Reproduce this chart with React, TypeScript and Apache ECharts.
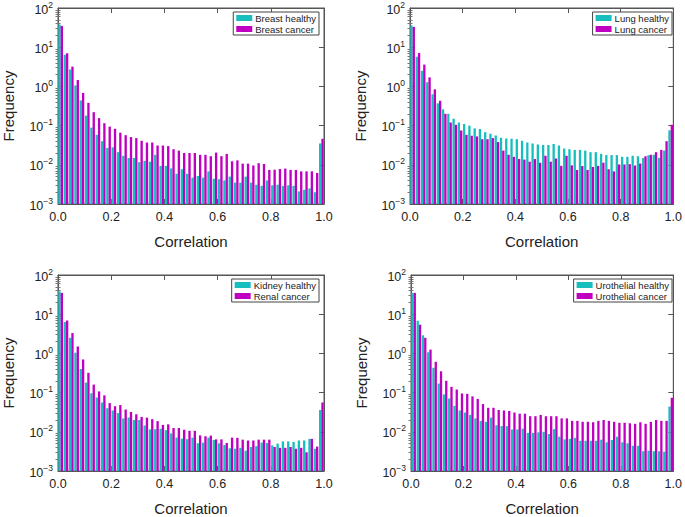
import React, { useEffect, useRef } from "react";
import * as echarts from "echarts";

// 50 histogram bins of width 0.02 over [0, 1]
const BIN_COUNT = 50;
const binCategories = Array.from({ length: BIN_COUNT }, (_, i) => (0.01 + 0.02 * i).toFixed(2));

const xTicks = [0, 0.2, 0.4, 0.6, 0.8, 1.0];

const breastHealthy = [38, 6.4, 2.7, 1.06, 0.44, 0.18, 0.089, 0.058, 0.04, 0.027, 0.028, 0.021, 0.017, 0.015, 0.015, 0.0117, 0.0126, 0.012, 0.018, 0.0094, 0.0094, 0.0081, 0.0059, 0.0077, 0.0059, 0.0047, 0.0052, 0.0047, 0.0068, 0.0044, 0.0043, 0.004, 0.005, 0.0035, 0.0035, 0.005, 0.0035, 0.0031, 0.0029, 0.004, 0.003, 0.0031, 0.0029, 0.003, 0.0029, 0.0021, 0.0023, 0.0025, 0.002, 0.035];
const breastCancer = [35, 7, 3.2, 1.45, 0.68, 0.38, 0.22, 0.155, 0.115, 0.094, 0.083, 0.066, 0.057, 0.051, 0.048, 0.041, 0.037, 0.037, 0.031, 0.031, 0.03, 0.025, 0.023, 0.02, 0.02, 0.02, 0.018, 0.018, 0.0166, 0.0205, 0.0166, 0.019, 0.0123, 0.013, 0.0107, 0.0107, 0.0096, 0.011, 0.0105, 0.0074, 0.0075, 0.0078, 0.008, 0.0074, 0.0074, 0.0068, 0.0068, 0.0068, 0.0062, 0.046];

const lungHealthy = [36, 5.7, 2.5, 1.28, 0.63, 0.37, 0.26, 0.2, 0.15, 0.12, 0.11, 0.1, 0.085, 0.082, 0.068, 0.062, 0.056, 0.049, 0.047, 0.046, 0.045, 0.041, 0.037, 0.035, 0.033, 0.032, 0.032, 0.034, 0.031, 0.026, 0.025, 0.024, 0.024, 0.023, 0.021, 0.021, 0.019, 0.0177, 0.0177, 0.0177, 0.016, 0.016, 0.017, 0.0165, 0.015, 0.0175, 0.018, 0.015, 0.023, 0.076];
const lungCancer = [33, 7.1, 3.6, 1.7, 0.84, 0.43, 0.2, 0.12, 0.105, 0.075, 0.058, 0.055, 0.053, 0.045, 0.045, 0.048, 0.038, 0.023, 0.018, 0.016, 0.014, 0.0136, 0.012, 0.014, 0.0113, 0.017, 0.012, 0.0145, 0.0094, 0.017, 0.0097, 0.0074, 0.0093, 0.0074, 0.0088, 0.0094, 0.0113, 0.0077, 0.0068, 0.0102, 0.0102, 0.0104, 0.0096, 0.0108, 0.0165, 0.018, 0.021, 0.024, 0.04, 0.105];

const kidneyHealthy = [38, 6.3, 2.5, 1.04, 0.4, 0.18, 0.096, 0.075, 0.056, 0.04, 0.035, 0.03, 0.022, 0.023, 0.02, 0.02, 0.0145, 0.0115, 0.0117, 0.012, 0.011, 0.0091, 0.0071, 0.0067, 0.0065, 0.0071, 0.0051, 0.0053, 0.0071, 0.0062, 0.0051, 0.0046, 0.0038, 0.0037, 0.0039, 0.0033, 0.0041, 0.0043, 0.0053, 0.0052, 0.0045, 0.005, 0.0057, 0.0057, 0.0055, 0.006, 0.006, 0.0066, 0.0037, 0.036];
const renalCancer = [35, 6.9, 3.3, 1.5, 0.7, 0.32, 0.16, 0.107, 0.085, 0.054, 0.045, 0.048, 0.037, 0.032, 0.028, 0.024, 0.023, 0.021, 0.0187, 0.015, 0.0155, 0.0125, 0.0125, 0.0113, 0.0106, 0.0106, 0.0081, 0.0077, 0.008, 0.0064, 0.0064, 0.0052, 0.0071, 0.007, 0.0063, 0.006, 0.006, 0.0063, 0.0063, 0.0063, 0.0041, 0.0039, 0.0039, 0.0041, 0.0037, 0.0039, 0.003, 0.0066, 0.0042, 0.056];

const urothelialHealthy = [35, 6.8, 2.9, 1.07, 0.43, 0.17, 0.09, 0.071, 0.046, 0.035, 0.031, 0.027, 0.022, 0.019, 0.018, 0.023, 0.0147, 0.014, 0.014, 0.0115, 0.0115, 0.012, 0.0094, 0.0094, 0.0097, 0.01, 0.0088, 0.0117, 0.0075, 0.0064, 0.0066, 0.007, 0.0059, 0.0059, 0.0059, 0.0059, 0.0063, 0.0054, 0.0062, 0.0075, 0.0054, 0.0051, 0.0044, 0.0044, 0.0032, 0.0033, 0.0032, 0.0032, 0.0031, 0.044];
const urothelialCancer = [35, 5.4, 2.5, 1.25, 0.61, 0.35, 0.2, 0.14, 0.12, 0.095, 0.093, 0.08, 0.069, 0.051, 0.041, 0.041, 0.036, 0.035, 0.034, 0.031, 0.029, 0.029, 0.025, 0.025, 0.027, 0.025, 0.025, 0.025, 0.022, 0.022, 0.019, 0.019, 0.018, 0.018, 0.0175, 0.019, 0.02, 0.019, 0.018, 0.017, 0.017, 0.0165, 0.016, 0.0175, 0.016, 0.018, 0.02, 0.019, 0.019, 0.074];

const panels = [
  { healthyName: "Breast healthy", cancerName: "Breast cancer", healthy: breastHealthy, cancer: breastCancer },
  { healthyName: "Lung healthy", cancerName: "Lung cancer", healthy: lungHealthy, cancer: lungCancer },
  { healthyName: "Kidney healthy", cancerName: "Renal cancer", healthy: kidneyHealthy, cancer: renalCancer },
  { healthyName: "Urothelial healthy", cancerName: "Urothelial cancer", healthy: urothelialHealthy, cancer: urothelialCancer },
];

const Y_MIN = 0.001;
const Y_MAX = 100;

const FONT = "'Liberation Sans', Arial, Helvetica, sans-serif";
const CYAN = "#17bebe";
const MAGENTA = "#c000c0";
const FRAME = "#555";
const TEXT = "#222";

const gridBoxes = [
  { left: 58, top: 6, width: 266, height: 198 },
  { left: 410, top: 6, width: 264, height: 198 },
  { left: 58, top: 275, width: 266, height: 199 },
  { left: 411, top: 275, width: 263, height: 199 },
];
const legendBoxes = [
  { right: 366, top: 12 },
  { right: 13, top: 12 },
  { right: 366, top: 279 },
  { right: 13, top: 279 },
];

// bars drawn on a decade scale (log10 of value above the axis floor)
const toDecades = (v: number) => Math.log10(v) - Math.log10(Y_MIN);
const DECADES = Math.log10(Y_MAX) - Math.log10(Y_MIN);
// minor log ticks (2..9 × 10^e) expressed on the decade scale
const minorDecadeTicks: number[] = [];
for (let d = 0; d < DECADES; d++) {
  for (let k = 2; k <= 9; k++) minorDecadeTicks.push(d + Math.log10(k));
}

function buildOption() {
  const grid: any[] = [];
  const xAxis: any[] = [];
  const yAxis: any[] = [];
  const series: any[] = [];
  const legend: any[] = [];

  panels.forEach((p, i) => {
    grid.push({ ...gridBoxes[i], show: true, borderColor: FRAME, borderWidth: 1, backgroundColor: "transparent" });
    const xBase = xAxis.length;
    xAxis.push({ type: "category", gridIndex: i, data: binCategories, show: false, boundaryGap: true });
    xAxis.push({
      type: "value", gridIndex: i, min: xTicks[0], max: xTicks[xTicks.length - 1], interval: 0.2, position: "bottom",
      axisLine: { show: true, lineStyle: { color: FRAME, width: 1 } },
      axisTick: { show: true, inside: true, length: 5, lineStyle: { color: FRAME } },
      splitLine: { show: false },
      axisLabel: { margin: 6, fontSize: 12.5, fontFamily: FONT, color: TEXT, formatter: (v: number) => v.toFixed(1) },
      name: "Correlation", nameLocation: "middle", nameGap: 30,
      nameTextStyle: { fontSize: 15, fontFamily: FONT, color: TEXT },
    });
    xAxis.push({
      type: "value", gridIndex: i, min: 0, max: 1, interval: 0.2, position: "top",
      axisLine: { show: true, lineStyle: { color: FRAME, width: 1 } },
      axisTick: { show: true, inside: true, length: 5, lineStyle: { color: FRAME } },
      splitLine: { show: false }, axisLabel: { show: false },
    });
    const yBase = yAxis.length;
    // decade scale for bars, also carrying the minor log ticks on the left
    yAxis.push({
      type: "value", gridIndex: i, min: 0, max: DECADES, position: "left",
      axisLine: { show: false }, axisLabel: { show: false }, splitLine: { show: false },
      axisTick: { show: true, inside: true, length: 2.5, customValues: minorDecadeTicks, lineStyle: { color: "#777" } },
    });
    yAxis.push({
      type: "value", gridIndex: i, min: 0, max: DECADES, position: "right",
      axisLine: { show: false }, axisLabel: { show: false }, splitLine: { show: false },
      axisTick: { show: true, inside: true, length: 2.5, customValues: minorDecadeTicks, lineStyle: { color: "#777" } },
    });
    yAxis.push({
      type: "log", gridIndex: i, min: Y_MIN, max: Y_MAX, logBase: 10, position: "left",
      axisLine: { show: true, lineStyle: { color: FRAME, width: 1 } },
      axisTick: { show: true, inside: true, length: 5, lineStyle: { color: FRAME } },
      splitLine: { show: false },
      axisLabel: {
        margin: 5, fontFamily: FONT, color: TEXT,
        formatter: (v: number) => {
          const e = Math.round(Math.log10(v));
          return `{a|10}{b|${e < 0 ? "\u2212" + Math.abs(e) : e}}`;
        },
        rich: {
          a: { fontSize: 12.5, fontFamily: FONT, color: TEXT, lineHeight: 16, verticalAlign: "bottom" },
          b: { fontSize: 8.5, fontFamily: FONT, color: TEXT, lineHeight: 9, verticalAlign: "top" },
        },
      },
      name: "Frequency", nameLocation: "middle", nameGap: 42,
      nameTextStyle: { fontSize: 15, fontFamily: FONT, color: TEXT },
    });
    yAxis.push({
      type: "log", gridIndex: i, min: Y_MIN, max: Y_MAX, logBase: 10, position: "right",
      axisLine: { show: true, lineStyle: { color: FRAME, width: 1 } },
      axisTick: { show: true, inside: true, length: 5, lineStyle: { color: FRAME } },
      splitLine: { show: false }, axisLabel: { show: false },
    });

    series.push({
      type: "bar", name: p.healthyName, xAxisIndex: xBase, yAxisIndex: yBase,
      data: p.healthy.map(toDecades), itemStyle: { color: CYAN },
      barGap: "0%", barCategoryGap: "12%", silent: true,
    });
    series.push({
      type: "bar", name: p.cancerName, xAxisIndex: xBase, yAxisIndex: yBase,
      data: p.cancer.map(toDecades), itemStyle: { color: MAGENTA },
      barGap: "0%", barCategoryGap: "12%", silent: true,
    });

    legend.push({
      data: [p.healthyName, p.cancerName], ...legendBoxes[i], orient: "vertical", icon: "rect",
      itemWidth: 16, itemHeight: 6, itemGap: 1, padding: [1, 3, 1, 3],
      borderColor: "#444", borderWidth: 1, backgroundColor: "#fff", borderRadius: 0,
      textStyle: { fontSize: 9.5, fontFamily: FONT, color: TEXT, padding: [0, 0, 0, -2] },
      selectedMode: false,
    });
  });

  return {
    animation: false,
    backgroundColor: "#fff",
    textStyle: { fontFamily: FONT },
    grid, xAxis, yAxis, series, legend,
  };
}

export default function App() {
  const ref = useRef<HTMLDivElement>(null);
  useEffect(() => {
    if (!ref.current) return;
    const chart = echarts.init(ref.current, undefined, { renderer: "svg" });
    chart.setOption(buildOption());
    return () => chart.dispose();
  }, []);
  return (
    <div
      ref={ref}
      style={{ position: "absolute", left: 0, top: 0, width: 685, height: 517 }}
    />
  );
}
